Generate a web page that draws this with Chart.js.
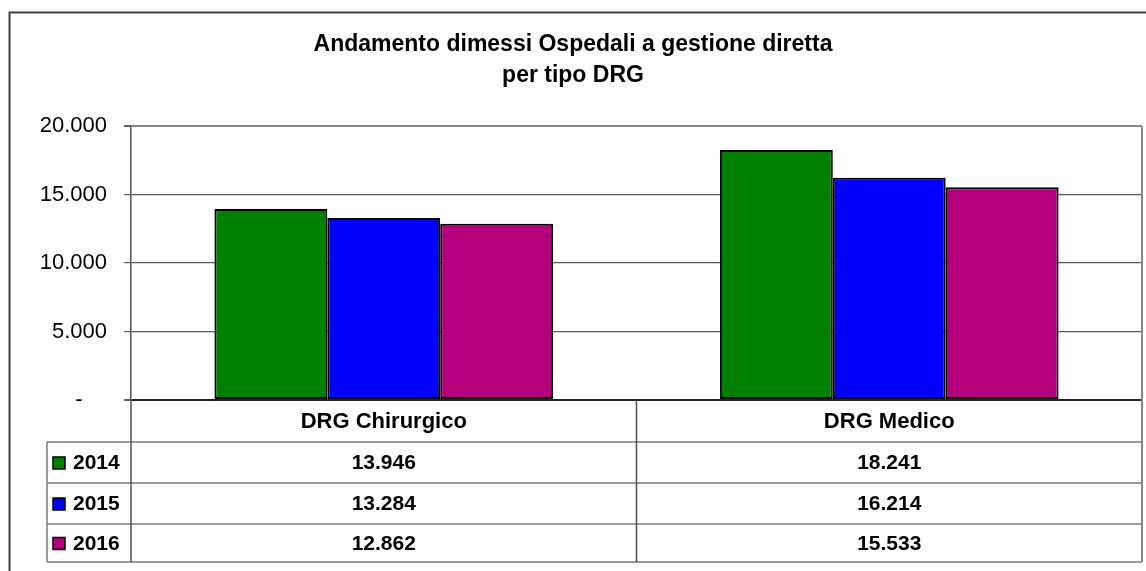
<!DOCTYPE html>
<html>
<head>
<meta charset="utf-8">
<script src="https://cdn.jsdelivr.net/npm/chart.js@4"></script>
<style>html,body{margin:0;padding:0;background:#fff}canvas{display:block}</style>
</head>
<body>
<canvas id="c" width="1146" height="571"></canvas>
<script>
const titleLines = ['Andamento dimessi Ospedali a gestione diretta', 'per tipo DRG'];
const categories = ['DRG Chirurgico', 'DRG Medico'];
const seriesNames = ['2014', '2015', '2016'];
const values2014 = [13946, 18241];
const values2015 = [13284, 16214];
const values2016 = [12862, 15533];
const seriesColors = ['#008000', '#0000FF', '#B4007D'];
const yTickValues = [0, 5000, 10000, 15000, 20000];
const yTickLabels = ['-', '5.000', '10.000', '15.000', '20.000'];

const seriesValues = [values2014, values2015, values2016];
const FONT = '"Liberation Sans", Arial, sans-serif';

function fmt(n) {
  return String(n).replace(/\B(?=(\d{3})+(?!\d))/g, '.');
}

const framePlugin = {
  id: 'frame',
  beforeDraw(chart) {
    const ctx = chart.ctx;
    ctx.save();
    ctx.fillStyle = '#fff';
    ctx.fillRect(0, 0, chart.width, chart.height);
    ctx.strokeStyle = '#404040';
    ctx.lineWidth = 2;
    ctx.strokeRect(9.5, 12.5, 1200, 700);
    // title
    ctx.fillStyle = '#000';
    ctx.font = 'bold 23px ' + FONT;
    ctx.textAlign = 'center';
    ctx.textBaseline = 'middle';
    ctx.fillText(titleLines[0], 573, 45);
    ctx.fillText(titleLines[1], 573, 76);
    ctx.restore();
  },
  afterDraw(chart) {
    const ctx = chart.ctx;
    const a = chart.chartArea;
    const xs = chart.scales.x;
    const L = 47;
    const rowLines = [442, 483, 524, 562];
    const bottom = rowLines[rowLines.length - 1];
    const divider = (xs.getPixelForValue(0) + xs.getPixelForValue(1)) / 2;
    ctx.save();
    ctx.strokeStyle = '#7a7a7a';
    ctx.lineWidth = 1.5;
    rowLines.forEach(y => {
      ctx.beginPath();
      ctx.moveTo(L, y);
      ctx.lineTo(a.right, y);
      ctx.stroke();
    });
    ctx.beginPath();
    ctx.moveTo(L, rowLines[0]); ctx.lineTo(L, bottom);
    ctx.stroke();
    ctx.strokeStyle = '#505050';
    ctx.beginPath();
    ctx.moveTo(a.left, a.bottom); ctx.lineTo(a.left, bottom);
    ctx.moveTo(divider, a.bottom); ctx.lineTo(divider, bottom);
    ctx.stroke();
    ctx.strokeStyle = '#888';
    ctx.lineWidth = 2;
    ctx.beginPath();
    ctx.moveTo(a.right, a.top); ctx.lineTo(a.right, bottom);
    ctx.stroke();
    ctx.fillStyle = '#000';
    ctx.font = 'bold 22px ' + FONT;
    ctx.textAlign = 'center';
    ctx.textBaseline = 'middle';
    categories.forEach((c, i) => {
      ctx.fillText(c, xs.getPixelForValue(i), (a.bottom + rowLines[0]) / 2 + 1);
    });
    ctx.font = 'bold 21px ' + FONT;
    seriesNames.forEach((s, r) => {
      const yc = (rowLines[r] + rowLines[r + 1]) / 2 + 1;
      seriesValues[r].forEach((v, i) => {
        ctx.textAlign = 'center';
        ctx.fillText(fmt(v), xs.getPixelForValue(i), yc);
      });
      ctx.fillStyle = seriesColors[r];
      ctx.fillRect(53, yc - 6.5, 12, 12);
      ctx.strokeStyle = '#000';
      ctx.lineWidth = 1.5;
      ctx.strokeRect(53, yc - 6.5, 12, 12);
      ctx.fillStyle = '#000';
      ctx.textAlign = 'left';
      ctx.fillText(s, 73, yc);
    });
    ctx.restore();
  }
};

new Chart(document.getElementById('c'), {
  type: 'bar',
  data: {
    labels: categories,
    datasets: seriesNames.map((name, i) => ({
      label: name,
      data: seriesValues[i],
      backgroundColor: seriesColors[i],
      borderColor: '#000',
      borderWidth: 2,
      borderSkipped: false,
      categoryPercentage: 0.67,
      barPercentage: 1
    }))
  },
  options: {
    responsive: false,
    devicePixelRatio: 1,
    animation: false,
    layout: { padding: { left: 0, top: 126, right: 4, bottom: 171 } },
    plugins: { legend: { display: false }, title: { display: false }, tooltip: { enabled: false } },
    scales: {
      x: { display: false },
      y: {
        min: 0,
        max: 20000,
        afterFit(scale) { scale.width = 131; },
        afterBuildTicks(scale) { scale.ticks = yTickValues.map(v => ({ value: v })); },
        border: { display: true, color: '#505050', width: 1.5 },
        grid: {
          drawTicks: true,
          tickLength: 7,
          tickColor: '#606060',
          color: ctx => ctx.tick.value === 20000 ? '#888' : (ctx.tick.value === 0 ? '#222' : '#5a5a5a'),
          lineWidth: ctx => ctx.tick.value === 20000 ? 2 : (ctx.tick.value === 0 ? 2 : 1.2)
        },
        ticks: {
          padding: 17,
          color: '#000',
          font: { family: FONT, size: 22 },
          callback: (v, i) => {
            const k = yTickValues.indexOf(v);
            const lab = yTickLabels[k];
            return lab === '-' ? '-    ' : lab;
          }
        }
      }
    }
  },
  plugins: [framePlugin]
});
</script>
</body>
</html>
